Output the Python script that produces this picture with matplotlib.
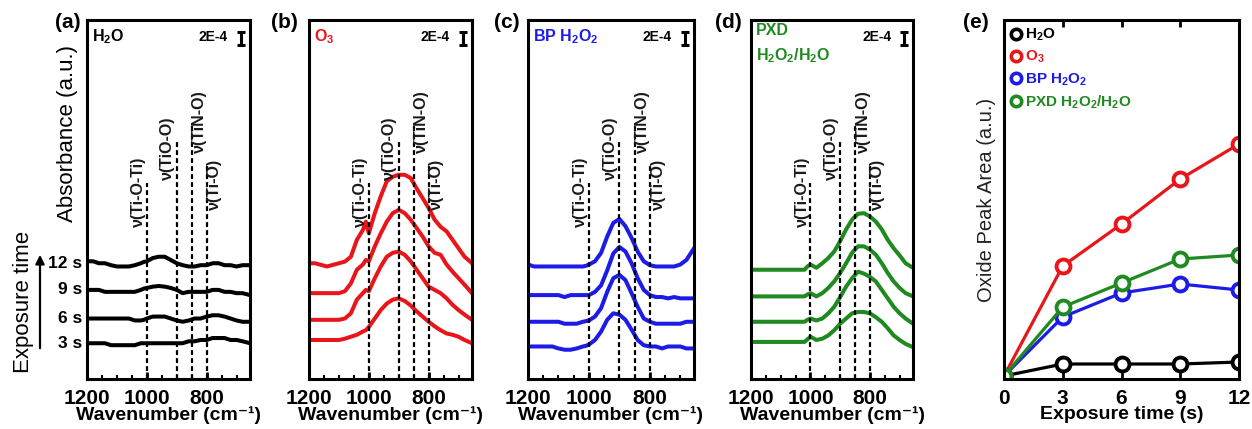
import matplotlib
matplotlib.use("Agg")
import matplotlib.pyplot as plt
from matplotlib.lines import Line2D
from matplotlib.ticker import MultipleLocator
from matplotlib.transforms import blended_transform_factory

plt.rcParams["font.family"] = ["Liberation Sans", "DejaVu Sans"]
plt.rcParams["mathtext.fontset"] = "custom"
plt.rcParams["mathtext.rm"] = "Liberation Sans"
plt.rcParams["mathtext.bf"] = "Liberation Sans:bold"
plt.rcParams["mathtext.default"] = "regular"

W, H = 1252, 429
RED = "#e8161b"
BLUE = "#1c1ce6"
GREEN = "#1f8a1f"

# --- FTIR difference spectra (units of 1e-4 absorbance, relative to each trace's baseline)
WAVENUMBER = [1200, 1180, 1160, 1140, 1120, 1100, 1080, 1060, 1040, 1020, 1010, 1000,
              980, 960, 940, 920, 900, 880, 860, 840, 820, 800, 780, 760, 740, 720,
              700, 680, 655]
TIME_LABELS = ["3 s", "6 s", "9 s", "12 s"]

H2O_SPECTRA = [
    [0, 0, 0, 0, -0.3, -0.3, -0.3, -0.3, -0.3, 0, 0, 0, 0, 0, 0, 0, 0, 0, 0.3, 0.3,
     0.5, 0.5, 0.8, 0.8, 0.8, 0.5, 0.5, 0.3, 0],
    [0, 0, 0, 0, 0, 0, 0, 0, -0.3, -0.3, -0.2, 0, 0.3, 0.3, 0.3, 0, -0.3, -0.5, -0.3, 0,
     0, 0.3, 0.5, 0.5, 0.3, 0, -0.3, -0.5, -0.5],
    [0, 0, 0, -0.3, -0.3, -0.3, -0.3, -0.3, -0.3, 0, 0.2, 0.3, 0.5, 0.6, 0.5, 0.3, 0,
     -0.5, -0.3, -0.3, -0.3, -0.3, 0, 0, -0.3, -0.3, -0.5, -0.5, -0.8],
    [0.3, 0.3, 0, 0, -0.3, -0.5, -0.5, -0.5, -0.3, 0, 0.2, 0.3, 0.8, 1.0, 1.0, 0.5, 0,
     -0.3, -0.5, -0.5, -0.3, -0.3, 0, 0, -0.3, -0.3, -0.5, -0.3, -0.3],
]
O3_SPECTRA = [
    [0, 0, 0, 0, 0, 0, 0.2, 0.5, 0.8, 1.3, 1.5, 2.0, 3.3, 4.6, 5.6, 6.2, 6.4, 6.0, 5.3,
     4.4, 3.6, 2.8, 2.1, 1.5, 1.0, 0.8, 0.5, 0.0, -0.5],
    [0, 0, 0, 0, 0, 0, 0.2, 1.0, 3.1, 4.1, 4.6, 4.4, 6.4, 8.2, 9.7, 10.3, 10.5, 10.0,
     9.0, 7.7, 6.4, 5.1, 4.6, 4.1, 3.3, 2.3, 1.5, 0.8, 0],
    [0, 0, 0, 0, 0, 0, 0.3, 1.5, 3.6, 4.4, 5.1, 4.9, 7.2, 9.2, 11.0, 12.3, 12.8, 12.3,
     11.3, 10.0, 8.7, 7.2, 6.2, 5.9, 4.4, 3.3, 2.3, 1.3, 0],
    [0, 0, -0.25, -0.5, -0.25, 0, 0.25, 1.0, 3.6, 5.1, 6.4, 4.6, 7.7, 10.3, 12.6, 13.3,
     13.6, 13.6, 13.1, 11.5, 10.0, 8.5, 6.7, 5.6, 4.9, 3.6, 2.3, 1.0, 0],
]
BP_SPECTRA = [
    [0, 0, 0, 0, 0, -0.3, -0.5, -0.5, -0.3, 0, 0.1, 0.3, 1.0, 2.3, 4.1, 5.1, 4.9, 4.1,
     2.6, 1.0, 0.2, 0, 0, -0.3, 0, 0, 0, -0.3, -0.3],
    [0, 0, 0, 0, 0, 0, -0.3, -0.3, -0.3, 0, 0.1, 0.2, 0.8, 2.1, 4.6, 6.7, 7.2, 6.4, 4.4,
     2.3, 0.5, 0, -0.3, -0.3, -0.3, -0.3, -0.3, 0, 0],
    [0, 0, 0, 0, 0, 0, -0.3, 0, 0, 0, 0, 0, 0.5, 1.5, 3.8, 6.4, 7.4, 6.7, 4.9, 2.6, 0.8,
     0, -0.3, -0.3, -0.5, -0.3, -0.5, -0.5, -0.5],
    [0.3, 0, 0, 0, 0, 0, 0, 0, 0, 0, 0.1, 0.3, 0.8, 2.1, 4.6, 6.7, 7.3, 6.2, 4.4, 2.3,
     0.8, 0.2, 0, 0, 0, 0, 0.3, 1.0, 2.8],
]
PXD_SPECTRA = [
    [0, 0, 0, 0, 0, 0, 0, 0, 0, 0, 0.4, 0.8, 0.3, 0.5, 1.0, 1.8, 2.8, 3.6, 4.4, 4.6,
     4.6, 4.4, 3.8, 3.1, 2.1, 1.0, 0.3, -0.3, -0.8],
    [0, 0, 0, 0, 0, 0, 0, 0, 0, 0, 0.3, 0.5, 0.2, 0.5, 1.3, 2.3, 3.8, 5.4, 6.7, 7.7,
     7.4, 6.9, 6.2, 4.9, 3.6, 2.3, 1.3, 0.5, -0.3],
    [0, 0, 0, 0, 0, 0, 0, 0, 0, 0, 0.3, 0.5, 0, 0.5, 1.3, 2.3, 3.6, 5.1, 6.7, 7.7, 7.7,
     7.2, 6.4, 5.1, 3.6, 2.3, 1.3, 0.5, 0],
    [0, 0, 0, 0, 0, 0, 0, 0, 0, 0, 0.5, 0.8, 0.3, 1.0, 1.8, 2.8, 4.4, 6.2, 7.7, 8.6,
     8.7, 8.2, 7.4, 6.2, 4.6, 3.3, 2.2, 1.0, 0.3],
]
# baseline of each trace (3, 6, 9, 12 s)
H2O_BASE = [5.5, 9.3, 13.7, 17.8]
O3_BASE = [6.0, 9.1, 13.2, 17.8]
BP_BASE = [5.0, 8.8, 12.9, 17.3]
PXD_BASE = [5.7, 8.8, 12.7, 16.8]

PEAK_POS = [1000, 900, 850, 800]
PEAK_NAMES = ["ν(Ti-O-Ti)", "ν(TiO-O)", "ν(TiN-O)", "ν(Ti-O)"]
PEAK_TOP = [30.2, 36.5, 39.1, 32.9]

# --- oxide peak area vs exposure time
EXPOSURE = [0, 3, 6, 9, 12]
AREA_H2O = [0, 0.12, 0.12, 0.12, 0.14]
AREA_O3 = [0, 1.10, 1.52, 1.97, 2.32]
AREA_BP = [0, 0.59, 0.83, 0.92, 0.86]
AREA_PXD = [0, 0.69, 0.93, 1.17, 1.21]

fig = plt.figure(figsize=(W / 100, H / 100), dpi=100)


def add_axes_px(left, right, top=20, bottom=379):
    return fig.add_axes([left / W, 1 - bottom / H, (right - left) / W, (bottom - top) / H])


def style_frame(ax):
    for sp in ax.spines.values():
        sp.set_linewidth(2.2)
    ax.set_yticks([])
    for lbl in ax.get_xticklabels():
        lbl.set_fontweight("bold")


def spectra_panel(ax, spectra, bases, color, titles, letter, letter_x):
    for vals, base in zip(spectra, bases):
        ax.plot(WAVENUMBER, [v + base for v in vals], color=color, lw=2.9,
                solid_joinstyle="round")
    label_dx = [27, 30, -27, -27]
    label_bottom = [23.4, 30.6, 34.8, 26.0]
    for pos, top, name, dx, yb in zip(PEAK_POS, PEAK_TOP, PEAK_NAMES, label_dx, label_bottom):
        ax.vlines(pos, 0, top, colors="black", linestyles=(0, (2.2, 1.4)), lw=1.6)
        ax.text(pos + dx, yb, name, rotation=90, ha="center", va="bottom",
                fontsize=11.5, fontweight="bold", color="#1a1a1a")
    ax.set_xlim(1200, 655)
    ax.set_ylim(0, 55.2)
    ax.set_xticks([1200, 1000, 800])
    ax.xaxis.set_minor_locator(MultipleLocator(50))
    ax.tick_params(axis="x", which="major", direction="in", length=5, width=2,
                   labelsize=15, pad=7)
    ax.tick_params(axis="x", which="minor", direction="in", length=3, width=1.5)
    ax.set_xlabel("Wavenumber (cm⁻¹)", fontsize=14, fontweight="bold", labelpad=-1)
    style_frame(ax)

    ty = [0.972, 0.90] if len(titles) > 1 else [0.953]
    for t, y in zip(titles, ty):
        ax.text(0.03, y, t, transform=ax.transAxes, color=color, fontsize=11.5,
                fontweight="bold", ha="left", va="center")
    ax.text(0.865, 0.953, "2E-4", transform=ax.transAxes, fontsize=10,
            fontweight="bold", ha="right", va="center")
    x0, x1 = ax.get_xlim()
    ax.errorbar(x0 + 0.945 * (x1 - x0), 52.4, yerr=1.0, color="black", elinewidth=2.2,
                capsize=3, capthick=2.2)
    fig.text(letter_x / W, 1 - 22 / H, letter, fontsize=15, fontweight="bold",
             ha="center", va="center")


ax_a = add_axes_px(87, 250)
spectra_panel(ax_a, H2O_SPECTRA, H2O_BASE, "black", ["H$_2$O"], "(a)", 68)
ax_b = add_axes_px(309, 472)
spectra_panel(ax_b, O3_SPECTRA, O3_BASE, RED, ["O$_3$"], "(b)", 284)
ax_c = add_axes_px(528, 694)
spectra_panel(ax_c, BP_SPECTRA, BP_BASE, BLUE, ["BP H$_2$O$_2$"], "(c)", 507)
ax_d = add_axes_px(751, 913)
spectra_panel(ax_d, PXD_SPECTRA, PXD_BASE, GREEN, ["PXD", "H$_2$O$_2$/H$_2$O"], "(d)", 728)

# exposure-time annotation on panel (a)
trans = blended_transform_factory(ax_a.transAxes, ax_a.transData)
for lab, base in zip(TIME_LABELS, H2O_BASE):
    ax_a.text(-0.03, base, lab, transform=trans, ha="right", va="center",
              fontsize=12.5, fontweight="bold")
fig.text(68 / W, 1 - 133 / H, "Absorbance (a.u.)", rotation=90, fontsize=16,
         ha="center", va="center")
fig.text(23 / W, 1 - 302 / H, "Exposure time", rotation=90, fontsize=16,
         ha="center", va="center")
fig.patches.append(matplotlib.patches.FancyArrowPatch(
    (40 / W, 1 - 351 / H), (40 / W, 1 - 252 / H), transform=fig.transFigure,
    arrowstyle="-|>", mutation_scale=13, lw=1.6, color="black"))

# panel (e)
ax_e = add_axes_px(1004, 1239)
series = [(AREA_H2O, "black", "H$_2$O"), (AREA_O3, RED, "O$_3$"),
          (AREA_BP, BLUE, "BP H$_2$O$_2$"), (AREA_PXD, GREEN, "PXD H$_2$O$_2$/H$_2$O")]
handles = []
for vals, c, lab in series:
    ax_e.plot(EXPOSURE, vals, color=c, lw=2.3, marker="o", ms=10, mew=2.8,
              mfc="white", mec=c)
    handles.append(Line2D([], [], ls="none", marker="o", ms=7.5, mew=2.6, mfc="white", mec=c))
ax_e.set_xlim(0, 12)
ax_e.set_ylim(-0.03, 3.56)
ax_e.set_xticks(EXPOSURE)
ax_e.tick_params(axis="x", direction="in", top=True, length=5, width=2, labelsize=15, pad=7)
ax_e.set_xlabel("Exposure time (s)", fontsize=14, fontweight="bold", labelpad=-1)
ax_e.set_ylabel("Oxide Peak Area (a.u.)", fontsize=14.5, color="#222222", labelpad=6)
style_frame(ax_e)
ax_e.legend(handles, [s[2] for s in series], loc="upper left", frameon=False,
            handlelength=0.7, handletextpad=0.2, labelspacing=0.38, borderaxespad=0.15,
            borderpad=0.3, prop=dict(weight="bold", size=11),
            labelcolor=[s[1] for s in series])
fig.text(976 / W, 1 - 22 / H, "(e)", fontsize=15, fontweight="bold", ha="center", va="center")

fig.savefig("out.png", dpi=100)
